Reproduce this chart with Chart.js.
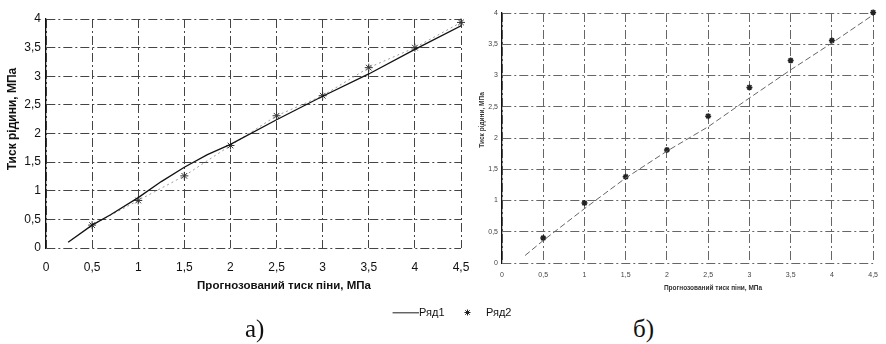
<!DOCTYPE html>
<html><head><meta charset="utf-8">
<script src="https://cdn.jsdelivr.net/npm/chart.js@4/dist/chart.umd.min.js"></script>
<style>
html,body{margin:0;padding:0;background:#fff;}
body{width:886px;height:344px;position:relative;overflow:hidden;}
#c1{position:absolute;left:0;top:0;}
#c2{position:absolute;left:474px;top:0;}
.sub{position:absolute;font-family:'Liberation Serif','Times New Roman',serif;font-size:25px;color:#111;line-height:25px;}
</style></head><body>
<canvas id="c1" width="540" height="328"></canvas>
<canvas id="c2" width="412" height="300"></canvas>
<div class="sub" style="left:245px;top:316px">а)</div>
<div class="sub" style="left:633px;top:316px">б)</div>
<script>
// ---------- data ----------
const seriesNames = ['Ряд1', 'Ряд2'];
const xTickLabels = ['0','0,5','1','1,5','2','2,5','3','3,5','4','4,5'];
const yTickLabels = ['0','0,5','1','1,5','2','2,5','3','3,5','4'];
const yTitleText = 'Тиск рідини, МПа';
const xTitleText = 'Прогнозований тиск піни, МПа';

// chart а)
const aLineX  = [0.24, 0.5, 0.7, 1, 1.25, 1.5, 1.75, 2, 2.5, 3, 3.5, 4, 4.5];
const aLineY  = [0.10, 0.40, 0.58, 0.88, 1.16, 1.41, 1.63, 1.81, 2.24, 2.65, 3.04, 3.47, 3.88];
const aPointX = [0.5, 1, 1.5, 2, 2.5, 3, 3.5, 4, 4.5];
const aPointY = [0.40, 0.83, 1.26, 1.79, 2.31, 2.66, 3.15, 3.50, 3.94];

// chart б)
const bLineX  = [0.28, 0.5, 1, 1.5, 2, 2.5, 3, 3.5, 4, 4.5];
const bLineY  = [0.12, 0.36, 0.87, 1.36, 1.79, 2.18, 2.64, 3.09, 3.52, 3.97];
const bPointX = [0.5, 1, 1.5, 2, 2.5, 3, 3.5, 4, 4.5];
const bPointY = [0.40, 0.96, 1.38, 1.81, 2.35, 2.81, 3.24, 3.56, 4.01];

const toXY = (xs, ys) => xs.map((x, i) => ({x: x, y: ys[i]}));

// ---------- legend symbols (style only) ----------
function lineSymbol() {
  const c = document.createElement('canvas');
  c.width = 36; c.height = 2;
  const g = c.getContext('2d');
  g.fillStyle = '#111'; g.fillRect(10, 0, 26, 1.3);
  return c;
}
function starSymbol() {
  const c = document.createElement('canvas');
  c.width = 7; c.height = 7;
  const g = c.getContext('2d');
  g.strokeStyle = '#222'; g.lineWidth = 1;
  g.beginPath();
  g.moveTo(3.5, 0.5); g.lineTo(3.5, 6.5);
  g.moveTo(0.5, 3.5); g.lineTo(6.5, 3.5);
  g.moveTo(1.3, 1.3); g.lineTo(5.7, 5.7);
  g.moveTo(5.7, 1.3); g.lineTo(1.3, 5.7);
  g.stroke();
  return c;
}
const legendSymbols = [lineSymbol(), starSymbol()];

// ---------- plugins ----------
const axisTitles = {
  id: 'axisTitles',
  afterDraw(chart, args, opts) {
    const ctx = chart.ctx;
    (opts.items || []).forEach(it => {
      ctx.save();
      ctx.font = it.font;
      ctx.fillStyle = it.color;
      ctx.textAlign = 'center';
      ctx.textBaseline = 'middle';
      ctx.translate(it.x, it.y);
      if (it.rotate) ctx.rotate(it.rotate);
      ctx.fillText(it.text, 0, 0);
      ctx.restore();
    });
  }
};
const legendShift = {
  id: 'legendShift',
  afterLayout(chart, args, opts) {
    if (chart.legend && opts.dx) {
      chart.legend.left += opts.dx;
      chart.legend.right += opts.dx;
    }
  }
};

const SANS = "'Liberation Sans', Arial, sans-serif";
const gridDash = [9, 3, 2, 3];

function scales(cfg) {
  return {
    x: {
      type: 'linear', min: 0, max: 4.5,
      afterFit: s => { s.height = cfg.xh; },
      ticks: { stepSize: 0.5, autoSkip: false, maxRotation: 0, padding: cfg.xpad,
               color: cfg.tc, font: { family: SANS, size: cfg.fs },
               callback: v => xTickLabels[Math.round(v / 0.5)] },
      grid: { color: cfg.gc, lineWidth: 1, drawTicks: false },
      border: { display: false, dash: gridDash }
    },
    y: {
      type: 'linear', min: 0, max: 4,
      afterFit: s => { s.width = cfg.yw; },
      ticks: { stepSize: 0.5, autoSkip: false, padding: cfg.ypad,
               color: cfg.tc, font: { family: SANS, size: cfg.fs },
               callback: v => yTickLabels[Math.round(v / 0.5)] },
      grid: { color: cfg.gc, lineWidth: 1, drawTicks: false },
      border: { display: true, color: '#111', width: 1.3, dash: gridDash }
    }
  };
}

// ---------- chart а) ----------
new Chart(document.getElementById('c1'), {
  type: 'scatter',
  data: {
    datasets: [
      { label: seriesNames[0], data: toXY(aLineX, aLineY), showLine: true,
        borderColor: '#111', borderWidth: 1.3, pointRadius: 0, pointHoverRadius: 0, tension: 0 },
      { label: seriesNames[1], data: toXY(aPointX, aPointY), showLine: true, clip: false,
        borderColor: '#9a9a9a', borderWidth: 1, borderDash: [2, 3],
        pointStyle: 'star', pointRadius: 4, pointBorderColor: '#333', pointBorderWidth: 1,
        pointBackgroundColor: '#333' }
    ]
  },
  options: {
    responsive: false, animation: false,
    layout: { padding: { top: 19, right: 79, left: 0, bottom: 0 } },
    scales: scales({ xh: 49, yw: 46, xpad: 12, ypad: 5, tc: '#111', gc: '#444', fs: 12 }),
    plugins: {
      tooltip: { enabled: false },
      legend: {
        display: true, position: 'bottom',
        labels: {
          usePointStyle: true, pointStyleWidth: 26, padding: 10,
          color: '#111', font: { family: SANS, size: 11 },
          generateLabels: chart => {
            const items = Chart.defaults.plugins.legend.labels.generateLabels(chart);
            items.forEach((it, i) => { it.pointStyle = legendSymbols[i]; });
            return items;
          }
        }
      },
      legendShift: { dx: 219 },
      axisTitles: { items: [
        { text: yTitleText, x: 13, y: 119, rotate: -Math.PI / 2, font: "bold 12px " + SANS, color: '#111' },
        { text: xTitleText, x: 284, y: 286, font: "bold 11.5px " + SANS, color: '#111' }
      ] }
    }
  },
  plugins: [axisTitles, legendShift]
});

// ---------- chart б) ----------
new Chart(document.getElementById('c2'), {
  type: 'scatter',
  data: {
    datasets: [
      { label: seriesNames[0], data: toXY(bLineX, bLineY), showLine: true,
        borderColor: '#666', borderWidth: 1, borderDash: [6, 3], pointRadius: 0, tension: 0 },
      { label: seriesNames[1], data: toXY(bPointX, bPointY), showLine: false, clip: false,
        pointStyle: 'star', pointRadius: 3, pointBorderColor: '#222', pointBorderWidth: 1.5 }
    ]
  },
  options: {
    responsive: false, animation: false,
    layout: { padding: { top: 13, right: 6, left: 0, bottom: 0 } },
    scales: scales({ xh: 37, yw: 28, xpad: 8, ypad: 4, tc: '#444', gc: '#666', fs: 7 }),
    plugins: {
      tooltip: { enabled: false },
      legend: { display: false },
      axisTitles: { items: [
        { text: yTitleText, x: 8, y: 120, rotate: -Math.PI / 2, font: "bold 6.5px " + SANS, color: '#333' },
        { text: xTitleText, x: 239, y: 288, font: "bold 6.5px " + SANS, color: '#333' }
      ] }
    }
  },
  plugins: [axisTitles]
});
</script>
</body></html>
